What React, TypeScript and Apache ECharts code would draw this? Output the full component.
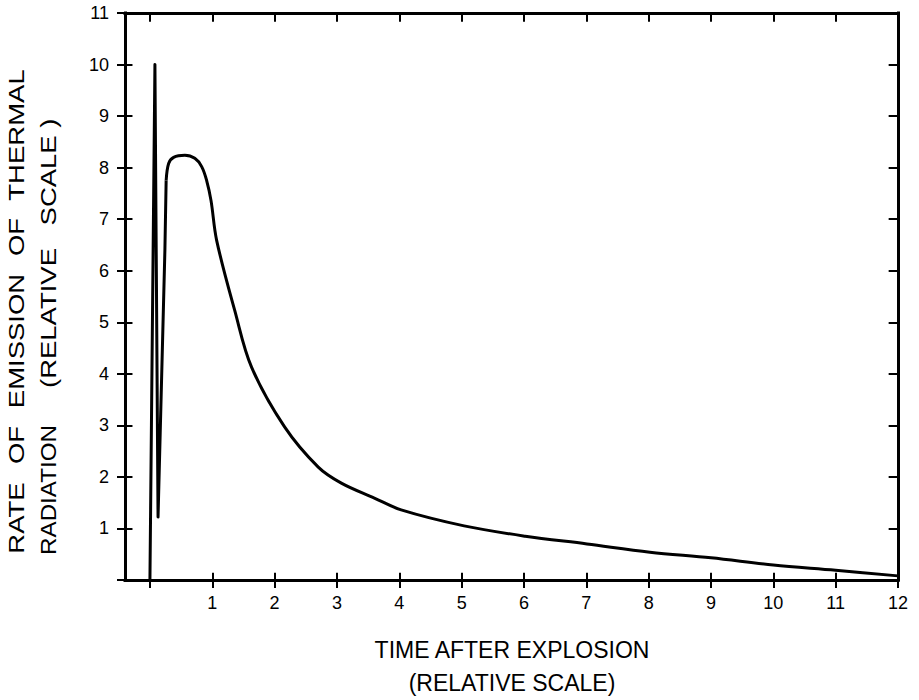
import React, { useEffect, useRef } from 'react';
import * as echarts from 'echarts';

// Axis ticks and labels
const xTickValues = [0, 1, 2, 3, 4, 5, 6, 7, 8, 9, 10, 11, 12];
const xLabelValues = [1, 2, 3, 4, 5, 6, 7, 8, 9, 10, 11, 12];
const yTickValues = [1, 2, 3, 4, 5, 6, 7, 8, 9, 10];
const yLabelValues = [1, 2, 3, 4, 5, 6, 7, 8, 9, 10, 11];
const xMin = -0.4;
const xMax = 12;
const yMin = 0;
const yMax = 11;

// Initial flash (sharp spike) — time, rate
const flashTime = [0, 0.08, 0.13, 0.24, 0.26];
const flashRate = [0, 10, 1.22, 6.4, 7.75];

// Second pulse and decay — time, rate
const pulseTime = [0.26, 0.3, 0.38, 0.56, 0.72, 0.83, 0.91, 0.98, 1.07, 1.36, 1.63, 2.16, 2.7, 3.07, 3.6, 4.03, 5.04, 6.02, 7.01, 8.02, 9.0, 10.0, 11.0, 12.0];
const pulseRate = [7.75, 8.08, 8.2, 8.24, 8.18, 8.02, 7.75, 7.36, 6.59, 5.23, 4.13, 2.97, 2.19, 1.88, 1.59, 1.36, 1.05, 0.85, 0.7, 0.54, 0.43, 0.29, 0.19, 0.08];

// Axis titles (the y title is set widely spaced in the original)
const yTitle1Words = ['RATE', 'OF', 'EMISSION', 'OF', 'THERMAL'];
const yTitle2Words = ['RADIATION', '(RELATIVE', 'SCALE )'];
const xTitle1 = 'TIME AFTER EXPLOSION';
const xTitle2 = '(RELATIVE SCALE)';

// word centre positions along the left title columns (page y)
const yTitle1Centers = [518, 445, 341, 237, 135];
const yTitle2Centers = [490, 318, 172];

export default function App() {
  const ref = useRef<HTMLDivElement>(null);
  useEffect(() => {
    const chart = echarts.init(ref.current as HTMLDivElement, null, { renderer: 'svg' });
    const font = "'Liberation Sans', Arial, Helvetica, sans-serif";
    const black = '#000';
    const lineStyle = { color: black, width: 3, cap: 'square' };
    const tickStyle = { color: black, width: 2 };
    const titleStyle = (text: string, size = 22) => ({ text, fill: black, font: `${size}px ${font}`, textAlign: 'center', textVerticalAlign: 'middle' });
    // inner tick lengths in data units (about 7 px vertically, 9 px horizontally)
    const dy = 0.14;
    const dx = 0.15;
    const innerTicks = [
      ...xTickValues.slice(0, -1).map((v) => [{ coord: [v, yMin] }, { coord: [v, yMin + dy] }]),
      ...xTickValues.slice(0, -1).map((v) => [{ coord: [v, yMax] }, { coord: [v, yMax - dy * 1.2] }]),
      ...yTickValues.map((v) => [{ coord: [xMin, v] }, { coord: [xMin + dx * 0.8, v] }]),
      ...yTickValues.map((v) => [{ coord: [xMax, v] }, { coord: [xMax - dx, v] }]),
    ];
    chart.setOption({
      animation: false,
      backgroundColor: '#fff',
      grid: { left: 125, right: 21, top: 13, bottom: 120, containLabel: false },
      xAxis: [
        {
          type: 'value', position: 'bottom', min: xMin, max: xMax, splitLine: { show: false },
          axisLine: { show: true, onZero: false, lineStyle },
          axisTick: { show: true, customValues: xTickValues, length: 8, lineStyle: tickStyle },
          axisLabel: { show: true, customValues: xLabelValues, margin: 14, color: black, fontSize: 18, fontFamily: font },
        },
        {
          type: 'value', position: 'top', min: xMin, max: xMax, splitLine: { show: false },
          axisLine: { show: true, onZero: false, lineStyle },
          axisTick: { show: false }, axisLabel: { show: false },
        },
      ],
      yAxis: [
        {
          type: 'value', position: 'left', min: yMin, max: yMax, interval: 1, splitLine: { show: false },
          axisLine: { show: true, onZero: false, lineStyle },
          axisTick: { show: true, length: 8, lineStyle: tickStyle },
          axisLabel: { show: true, customValues: yLabelValues, margin: 16, color: black, fontSize: 18, fontFamily: font },
        },
        {
          type: 'value', position: 'right', min: yMin, max: yMax, interval: 1, splitLine: { show: false },
          axisLine: { show: true, onZero: false, lineStyle },
          axisTick: { show: false }, axisLabel: { show: false },
        },
      ],
      series: [
        {
          type: 'line', xAxisIndex: 0, yAxisIndex: 0, showSymbol: false, smooth: false,
          lineStyle: { color: black, width: 3, join: 'round' },
          data: flashTime.map((t, i) => [t, flashRate[i]]),
          markLine: {
            silent: true, symbol: ['none', 'none'], animation: false,
            label: { show: false },
            lineStyle: { color: black, width: 2, type: 'solid' },
            emphasis: { disabled: true },
            data: innerTicks,
          },
        },
        {
          type: 'line', xAxisIndex: 0, yAxisIndex: 0, showSymbol: false, smooth: 0.35,
          lineStyle: { color: black, width: 3 },
          data: pulseTime.map((t, i) => [t, pulseRate[i]]),
        },
      ],
      graphic: [
        ...yTitle1Words.map((w, i) => ({ type: 'text', x: 16, y: yTitle1Centers[i], rotation: Math.PI / 2, scaleX: 1.25, style: titleStyle(w) })),
        ...yTitle2Words.map((w, i) => ({ type: 'text', x: 48, y: yTitle2Centers[i], rotation: Math.PI / 2, scaleX: i === 0 ? 1.1 : 1.25, style: titleStyle(w) })),
        { type: 'text', x: 512, y: 650, style: titleStyle(xTitle1, 23) },
        { type: 'text', x: 512, y: 683, style: titleStyle(xTitle2, 23) },
      ],
    });
    return () => chart.dispose();
  }, []);
  return <div ref={ref} style={{ position: 'fixed', left: 0, top: 0, width: 919, height: 700 }} />;
}
